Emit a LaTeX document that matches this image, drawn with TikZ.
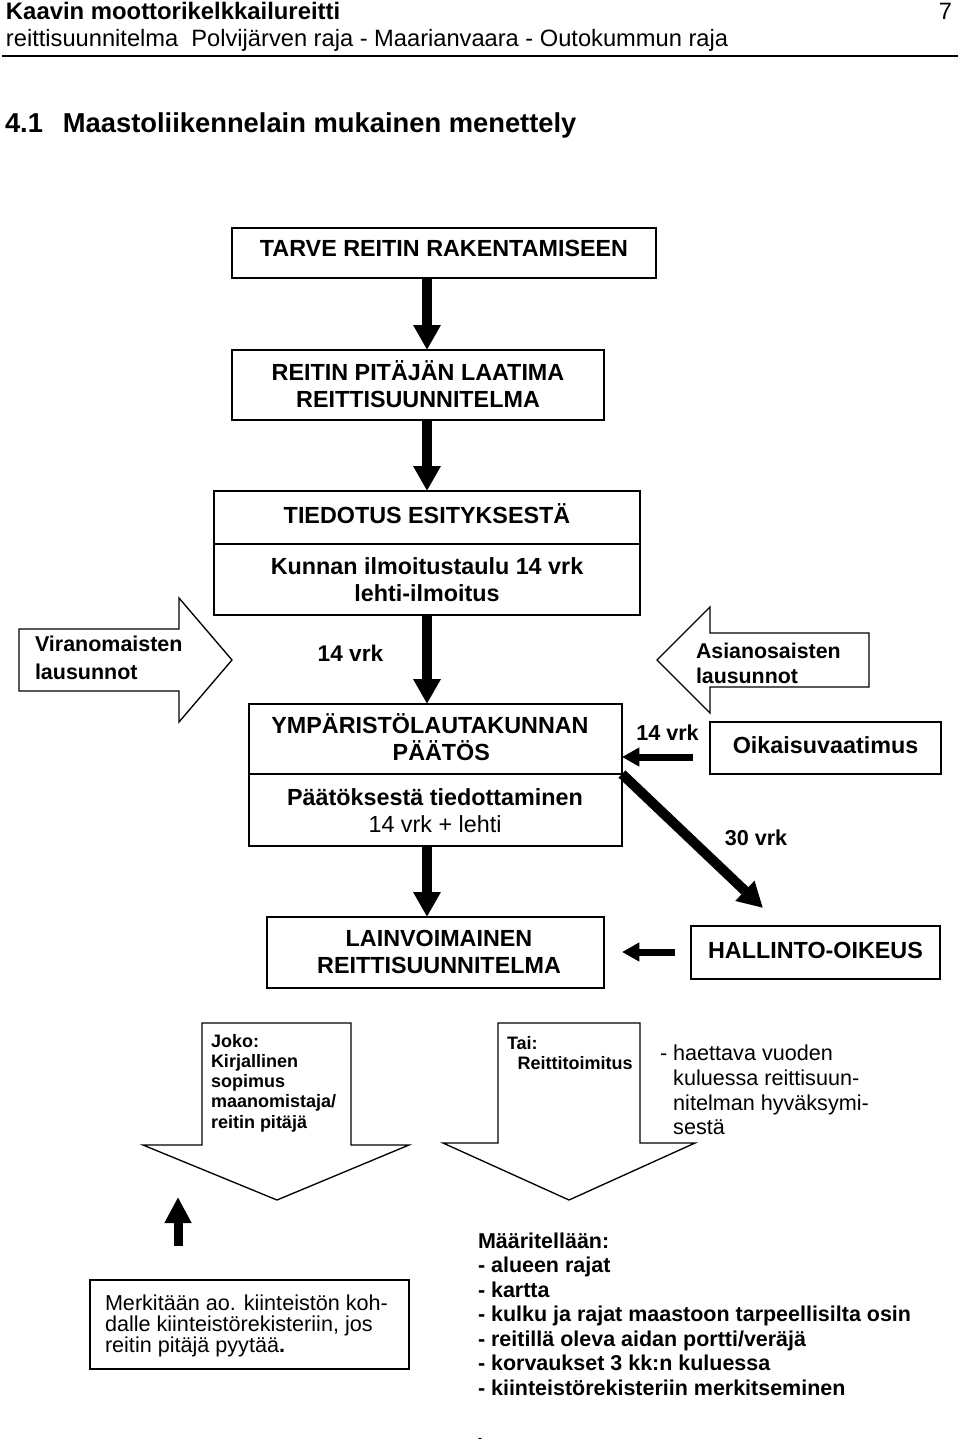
\documentclass[tikz,border=0pt]{standalone}
\usepackage{fontspec}
\setmainfont{Liberation Sans}
\usetikzlibrary{arrows.meta}
\tikzset{
  every node/.style={inner sep=0pt, outer sep=0pt},
  box/.style={draw=black, line width=1.3pt, fill=none},
  outl/.style={draw=black, line width=1pt, line join=miter},
  bigarrow/.style={line width=7.5pt, -{Triangle[width=19.5pt,length=18.75pt]}},
  midarrow/.style={line width=5.25pt, -{Triangle[width=13.5pt,length=13pt]}},
  boxtxt/.style={font=\fontsize{17.5}{20.25}\selectfont\bfseries, align=center},
  lbl/.style={font=\fontsize{16.2}{19}\selectfont\bfseries},
  jokotxt/.style={font=\fontsize{13.5}{15.2}\selectfont\bfseries, align=left, anchor=west},
  plaintxt/.style={font=\fontsize{16.2}{18.45}\selectfont, align=left, anchor=west},
  hdrtxt/.style={font=\fontsize{17.75}{20}\selectfont},
}
\begin{document}
\begin{tikzpicture}[x=0.75pt, y=-0.75pt]
\useasboundingbox (0,0) rectangle (960,1444);
% header
\node[hdrtxt, font=\fontsize{17.9}{20}\selectfont\bfseries, anchor=base west] (hdr1) at (6,20) {Kaavin moottorikelkkailureitti};
\node[hdrtxt, anchor=base east] (pnum) at (952,20) {7};
\node[hdrtxt, anchor=base west] (hdr2) at (6,47) {reittisuunnitelma\ \ Polvijärven raja - Maarianvaara - Outokummun raja};
\draw[line width=2pt] (2,56) -- (958,56);
\node[font=\fontsize{20.5}{24}\selectfont\bfseries, anchor=base west] (title) at (5,133) {4.1\hspace{15pt}Maastoliikennelain mukainen menettely};
% boxes
\node[box, minimum width=318pt, minimum height=37.5pt] (tarve) at (444,253) {};
\node[box, minimum width=279pt, minimum height=52.5pt] (reitin) at (418,385) {};
\node[box, minimum width=319.5pt, minimum height=39.75pt] (tiedA) at (427,517.5) {};
\node[box, minimum width=319.5pt, minimum height=53.25pt] (tiedB) at (427,579.5) {};
\node[box, minimum width=279.75pt, minimum height=52.5pt] (ymA) at (435.5,739) {};
\node[box, minimum width=279.75pt, minimum height=54pt] (ymB) at (435.5,810) {};
\node[box, minimum width=173.25pt, minimum height=39pt] (oik) at (825.5,748) {};
\node[box, minimum width=252.75pt, minimum height=53.25pt] (lain) at (435.5,952.5) {};
\node[box, minimum width=186.75pt, minimum height=39.75pt] (hall) at (815.5,952.5) {};
\node[box, minimum width=239.25pt, minimum height=66.75pt] (merk) at (249.5,1324.5) {};
% box texts
\node[boxtxt] (tarveT) at (444,248) {TARVE REITIN RAKENTAMISEEN};
\node[boxtxt] (reitinT) at (418,384.5) {REITIN PITÄJÄN LAATIMA\\REITTISUUNNITELMA};
\node[boxtxt] (tiedAT) at (427,514) {TIEDOTUS ESITYKSESTÄ};
\node[boxtxt] (tiedBT) at (427,579.5) {Kunnan ilmoitustaulu 14 vrk\\lehti-ilmoitus};
\node[boxtxt] (ymAT) at (430,737) {YMPÄRISTÖLAUTAKUNNAN\hspace*{0pt}\\\hspace*{17pt}PÄÄTÖS};
\node[boxtxt] (ymBT) at (435,811) {Päätöksestä tiedottaminen\\{\mdseries 14 vrk + lehti}};
\node[boxtxt] (oikT) at (825.5,745) {Oikaisuvaatimus};
\node[boxtxt] (lainT) at (439,951.5) {LAINVOIMAINEN\\REITTISUUNNITELMA};
\node[boxtxt] (hallT) at (815.5,950) {HALLINTO-OIKEUS};
% labels
\node[lbl, font=\fontsize{17}{19}\selectfont\bfseries] (lbl14a) at (350.5,653) {14 vrk};
\node[lbl] (lbl14b) at (667.5,733) {14 vrk};
\node[lbl] (lbl30) at (756,838) {30 vrk};
% outline block arrows
\draw[outl] (19,629) -- (179,629) -- (179,598) -- (232,660) -- (179,722) -- (179,691) -- (19,691) -- cycle;
\node[font=\fontsize{16.1}{21}\selectfont\bfseries, align=left, anchor=west] (viranT) at (35,658) {Viranomaisten\\lausunnot};
\draw[outl] (869,633) -- (710,633) -- (710,607) -- (657,660) -- (710,713) -- (710,687) -- (869,687) -- cycle;
\node[font=\fontsize{16}{18.75}\selectfont\bfseries, align=left, anchor=west] (asianT) at (696,663.5) {Asianosaisten\\lausunnot};
\draw[outl] (202,1023) -- (351,1023) -- (351,1145) -- (409,1145) -- (277,1200) -- (143,1145) -- (202,1145) -- cycle;
\node[jokotxt] (jokoT) at (211,1083) {Joko:\\Kirjallinen\\sopimus\\maanomistaja/\\reitin pitäjä};
\draw[outl] (498,1023) -- (640,1023) -- (640,1143) -- (695,1143) -- (569,1200) -- (443,1143) -- (498,1143) -- cycle;
\node[jokotxt] (taiT) at (507,1053) {Tai:\\\hspace*{8pt}Reittitoimitus};
\node[plaintxt] (haetT) at (660,1090) {- haettava vuoden\\\hspace*{9.9pt}kuluessa reittisuun-\\\hspace*{9.9pt}nitelman hyväksymi-\\\hspace*{9.9pt}sestä};
\node[plaintxt, font=\fontsize{16.2}{15.75}\selectfont] (merkT) at (105,1326) {Merkitään ao. kiinteistön koh-\\dalle kiinteistörekisteriin, jos\\reitin pitäjä pyytää{\bfseries .}};
\node[plaintxt, font=\fontsize{16.1}{18.4}\selectfont\bfseries] (maarT) at (478,1314) {Määritellään:\\- alueen rajat\\- kartta\\- kulku ja rajat maastoon tarpeellisilta osin\\- reitillä oleva aidan portti/veräjä\\- korvaukset 3 kk:n kuluessa\\- kiinteistörekisteriin merkitseminen};
\node[font=\fontsize{10}{12}\selectfont] (dash) at (480,1440) {-};
% connectors
\coordinate (ax) at (427,0);
\draw[bigarrow] (tarve.south -| ax) -- (reitin.north -| ax);
\draw[bigarrow] (reitin.south -| ax) -- (tiedA.north -| ax);
\draw[bigarrow] (tiedB.south -| ax) -- (ymA.north -| ax);
\draw[bigarrow] (ymB.south -| ax) -- (lain.north -| ax);
\coordinate (oaS) at (693,757);
\draw[midarrow] (oaS) -- (oaS -| ymA.east);
\coordinate (haS) at (675,952);
\coordinate (haE) at (622,952);
\draw[midarrow] (haS) -- (haE);
\coordinate (dgE) at (763,908);
\draw[bigarrow] (ymA.south east) -- (dgE);
\coordinate (upS) at (178,1246);
\coordinate (upE) at (178,1197);
\draw[line width=6.75pt, -{Triangle[width=19pt,length=19.5pt]}] (upS) -- (upE);
\end{tikzpicture}
\end{document}
